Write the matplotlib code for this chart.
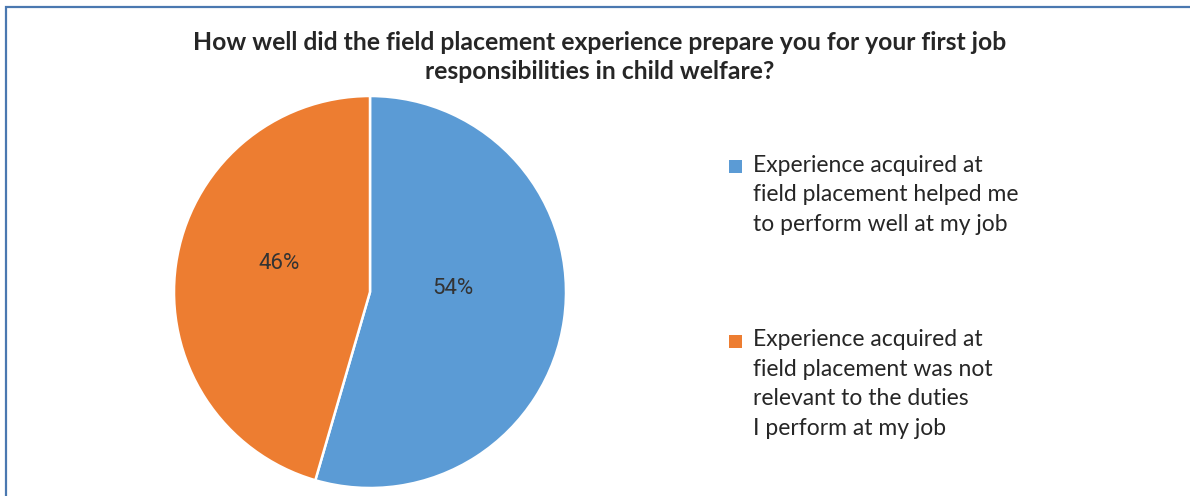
import matplotlib
matplotlib.use("Agg")
import matplotlib.pyplot as plt
from matplotlib.patches import Rectangle
from matplotlib.legend_handler import HandlerPatch

# data (slice angle: ~54.5 / 45.5, shown rounded)
labels = ["Experience acquired at\nfield placement helped me\nto perform well at my job",
          "Experience acquired at\nfield placement was not\nrelevant to the duties\nI perform at my job"]
shares = [54.5, 45.5]
colors = ["#5B9BD5", "#ED7D31"]
title = "How well did the field placement experience prepare you for your first job\nresponsibilities in child welfare?"

W, H = 1190, 496
fig = plt.figure(figsize=(W / 100, H / 100), dpi=100)

# outer frame (right and bottom edges are cut off in the original)
fig.patches.append(Rectangle((6 / W, -0.2), 1.3, 1 - 7 / H + 0.2, transform=fig.transFigure,
                             fill=False, edgecolor="#4A78B0", linewidth=1.6))

fig.text(600 / W, 1 - 57 / H, title, ha="center", va="center", fontsize=17.8,
         fontweight="bold", family="Lato", color="#262626", linespacing=1.3)

# pie
cx, cy, r = 370, 292, 196
ax = fig.add_axes([(cx - r) / W, (H - cy - r) / H, 2 * r / W, 2 * r / H])
wedges, texts, autotexts = ax.pie(shares, colors=colors, startangle=90, counterclock=False,
                                  autopct="%.0f%%", pctdistance=0.45,
                                  wedgeprops=dict(edgecolor="white", linewidth=1.8),
                                  textprops=dict(fontsize=16, color="#333333", family="Roboto"))
for t in autotexts:
    x, y = t.get_position()
    t.set_position((x - 0.02, y + 0.08))
ax.set_xlim(-1, 1)
ax.set_ylim(-1, 1)
ax.set_aspect("equal")
ax.axis("off")


class TopHandler(HandlerPatch):
    # put the square next to the first text line instead of the middle
    def __init__(self, nlines, spacing, **kw):
        self.nlines = nlines
        self.spacing = spacing
        super().__init__(**kw)

    def create_artists(self, legend, orig_handle, xdescent, ydescent, width, height, fontsize, trans):
        s = 9.5
        off = (self.nlines - 1) / 2 * self.spacing * fontsize * 0.82
        p = Rectangle((width - s - 3, height / 2 - s / 2 + off), s, s,
                      facecolor=orig_handle.get_facecolor(), edgecolor="none", transform=trans)
        return [p]


line_sp = 1.52
handles = [Rectangle((0, 0), 1, 1, facecolor=c) for c in colors]
leg = fig.legend(handles, labels, loc="upper left", bbox_to_anchor=(698 / W, 1 - 134 / H),
                 frameon=False, prop=dict(family="Lato", size=16.5), labelspacing=4.08,
                 handlelength=1.2, handletextpad=0.3,
                 handler_map={handles[0]: TopHandler(3, line_sp), handles[1]: TopHandler(4, line_sp)})
for t in leg.get_texts():
    t.set_linespacing(line_sp)
    t.set_color("#262626")

fig.savefig("out.png", dpi=100)
